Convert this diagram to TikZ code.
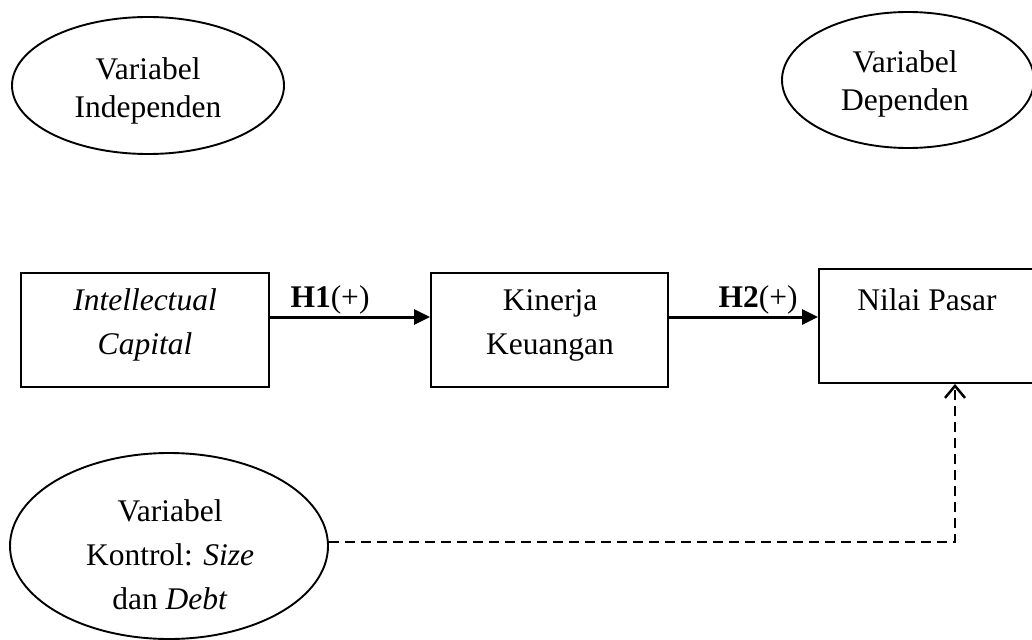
\documentclass[tikz,border=0pt]{standalone}
\usepackage{fontspec}
\setmainfont{Liberation Serif}
\usetikzlibrary{shapes.geometric,arrows.meta}
\tikzset{
  txt/.style={font=\fontsize{31.5}{44}\selectfont, align=center, inner sep=0pt},
  toptxt/.style={font=\fontsize{31.5}{38}\selectfont, align=center, inner sep=0pt},
  boxnode/.style={draw, line width=1.9pt, inner sep=0pt},
  ellnode/.style={draw, ellipse, line width=1.9pt, inner sep=0pt},
  solidarrow/.style={line width=3pt, -{Triangle[length=16pt,width=15pt]}},
  dasharrow/.style={line width=2.5pt, dash pattern=on 10pt off 6pt, -{Straight Barb[length=12pt,width=20pt,line width=2.5pt]}},
  hlabel/.style={font=\fontsize{31.5}{38}\selectfont, inner sep=0pt}
}
\begin{document}
\begin{tikzpicture}[x=1pt,y=-1pt]
\useasboundingbox (0,0) rectangle (1032,639);
% top ellipses
\node[ellnode, minimum width=272pt, minimum height=137pt] (ind) at (148,85.5) {};
\node[toptxt] (indt) at (148,91) {Variabel\\Independen};
\node[ellnode, minimum width=252pt, minimum height=136pt] (dep) at (908,80) {};
\node[toptxt] (dept) at (905,84) {Variabel\\Dependen};
% boxes
\node[boxnode, minimum width=248pt, minimum height=114pt] (ic) at (145,330) {};
\node[txt] (ict) at (145,325) {\itshape Intellectual\\\itshape Capital};
\node[boxnode, minimum width=237pt, minimum height=114pt] (kk) at (549.5,330) {};
\node[txt] (kkt) at (550,325) {Kinerja\\Keuangan};
\node[boxnode, minimum width=221pt, minimum height=114pt] (np) at (929.5,326) {};
\node[txt] (npt) at (927,300) {Nilai Pasar};
% control ellipse
\node[ellnode, minimum width=318pt, minimum height=186pt] (ctrl) at (169,546) {};
\node[txt] (ctrlt) at (170,555) {Variabel\\Kontrol: \textit{Size}\\dan \textit{Debt}};
% arrows
\draw[solidarrow] (ic.east |- 0,317) -- (kk.west |- 0,317);
\draw[solidarrow] (kk.east |- 0,317) -- (np.west |- 0,317);
\node[hlabel] (h1) at (330,300) {\textbf{H1}(+)};
\node[hlabel] (h2) at (758,300) {\textbf{H2}(+)};
\coordinate (bend) at (955,542);
\draw[dasharrow] (ctrl.east |- bend) -- (bend) -- (bend |- np.south);
\end{tikzpicture}
\end{document}
